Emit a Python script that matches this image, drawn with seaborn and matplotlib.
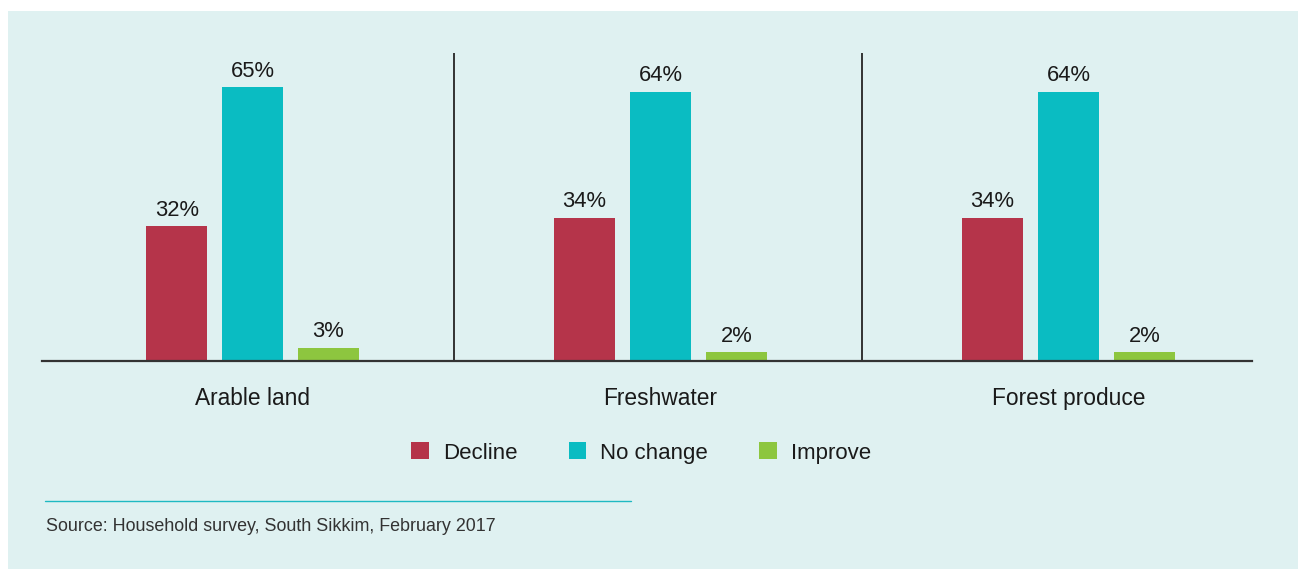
import matplotlib
matplotlib.use("Agg")
import matplotlib.pyplot as plt
from matplotlib.patches import Rectangle, Patch
from matplotlib.lines import Line2D
import pandas as pd
import seaborn as sns

# Survey results: perceived change in natural resources
resources = ["Arable land", "Freshwater", "Forest produce"]
responses = ["Decline", "No change", "Improve"]
decline = [32, 34, 34]
no_change = [65, 64, 64]
improve = [3, 2, 2]
source_note = "Source: Household survey, South Sikkim, February 2017"

colors = ["#b5344a", "#0abcc2", "#8dc63f"]
panel_bg = "#dff1f1"

df = pd.DataFrame({
    "resource": resources * 3,
    "response": [r for r in responses for _ in resources],
    "share": decline + no_change + improve,
})

sns.set_theme(style="white")
plt.rcParams["font.family"] = ["Liberation Sans", "DejaVu Sans"]

W, H = 1298, 569
fig = plt.figure(figsize=(W / 100, H / 100), dpi=100, facecolor="white")

# light panel behind everything
fig.patches.append(Rectangle((8 / W, 0), 1 - 8 / W, 1 - 11 / H,
                             transform=fig.transFigure, facecolor=panel_bg,
                             edgecolor="none", zorder=-10))

ax = fig.add_axes([42 / W, 1 - 360.5 / H, (1252 - 42) / W, (360.5 - 53) / H])
ax.set_facecolor("none")

sns.barplot(data=df, x="resource", y="share", hue="response",
            order=resources, hue_order=responses, palette=colors,
            width=0.558, gap=0.196, saturation=1, errorbar=None,
            linewidth=0, edgecolor="none", ax=ax)
ax.legend_.remove()

for cont in ax.containers:
    ax.bar_label(cont, labels=[f"{v:g}%" for v in cont.datavalues],
                 padding=4, fontsize=15.8, color="#1a1a1a")

ax.set_xlim(-0.516, 2.45)
ax.set_ylim(0, 73.2)
ax.set_xlabel("")
ax.set_ylabel("")
ax.set_yticks([])
ax.tick_params(axis="x", length=0, pad=19, labelsize=16.4, labelcolor="#1a1a1a")

for s in ["top", "right", "left"]:
    ax.spines[s].set_visible(False)
ax.spines["bottom"].set_color("#333333")
ax.spines["bottom"].set_linewidth(1.6)

for xpos in (0.493, 1.494):
    ax.axvline(xpos, color="#333333", lw=1.4, zorder=0)

handles = [Patch(facecolor=c, edgecolor="none") for c in colors]
fig.legend(handles, responses, loc="center", ncol=3, frameon=False,
           bbox_to_anchor=(641 / W, 1 - 453 / H), fontsize=16,
           handlelength=0.79, handleheight=0.79, handletextpad=0.63,
           columnspacing=2.3, labelcolor="#1a1a1a")

fig.add_artist(Line2D([45 / W, 631 / W], [1 - 501 / H, 1 - 501 / H],
                      transform=fig.transFigure, color="#1fb9c2", lw=1.0))
fig.text(46 / W, 1 - 531 / H, source_note, fontsize=12.9, color="#333333",
         va="baseline", ha="left")

fig.savefig("out.png", dpi=100, facecolor="white")
